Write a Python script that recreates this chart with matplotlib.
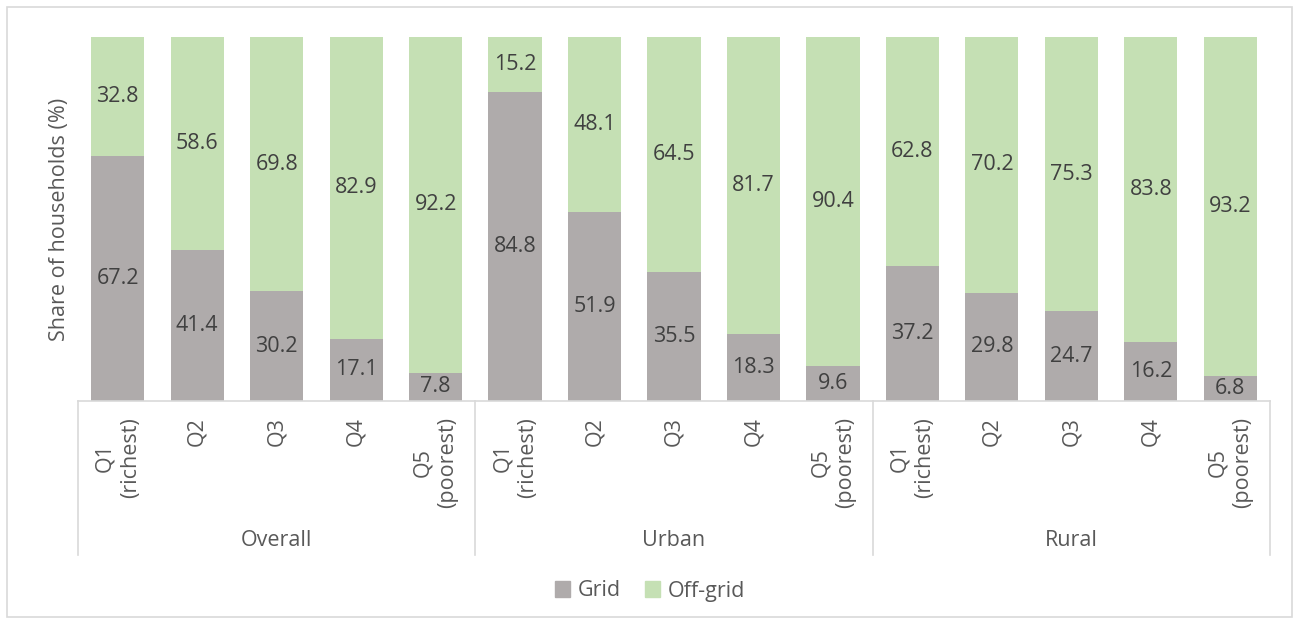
import matplotlib
matplotlib.use("Agg")
import matplotlib.pyplot as plt
from matplotlib.patches import Rectangle, Patch
import numpy as np

plt.rcParams["font.family"] = ["Open Sans", "DejaVu Sans"]

groups = ["Overall", "Urban", "Rural"]
quintiles = ["Q1\n(richest)", "Q2", "Q3", "Q4", "Q5\n(poorest)"]
grid = [67.2, 41.4, 30.2, 17.1, 7.8,
        84.8, 51.9, 35.5, 18.3, 9.6,
        37.2, 29.8, 24.7, 16.2, 6.8]
off_grid = [32.8, 58.6, 69.8, 82.9, 92.2,
            15.2, 48.1, 64.5, 81.7, 90.4,
            62.8, 70.2, 75.3, 83.8, 93.2]

GRID_COLOR = "#AFABAB"
OFF_COLOR = "#C5E0B4"
LINE_COLOR = "#D9D9D9"
TEXT_COLOR = "#595959"
FS = 15.5

W, H = 1299, 624
fig = plt.figure(figsize=(W / 100, H / 100), dpi=100)
ax = fig.add_axes([78 / W, 1 - 401 / H, (1270 - 78) / W, (401 - 37) / H])

x = np.arange(len(grid))
ax.bar(x, grid, width=0.67, color=GRID_COLOR)
ax.bar(x, off_grid, width=0.67, bottom=grid, color=OFF_COLOR)

for i in range(len(grid)):
    ax.text(x[i], grid[i] / 2, f"{grid[i]:.1f}", ha="center", va="center",
            fontsize=FS, color="#404040")
    ax.text(x[i], grid[i] + off_grid[i] / 2, f"{off_grid[i]:.1f}", ha="center",
            va="center", fontsize=FS, color="#404040")

ax.set_xlim(-0.5, len(grid) - 0.5)
ax.set_ylim(0, 100)
for s in ax.spines.values():
    s.set_visible(False)
ax.set_yticks([])
ax.set_xticks([])
ax.set_ylabel("Share of households (%)", fontsize=FS, color=TEXT_COLOR, labelpad=6)

ah = 401 - 37
trans = ax.get_xaxis_transform()
# baseline
ax.plot([-0.5, len(grid) - 0.5], [0, 0], transform=trans, color=LINE_COLOR,
        lw=1.2, clip_on=False)
# group separators
for k in range(len(groups) + 1):
    xs = -0.5 + 5 * k
    ax.plot([xs, xs], [0, -(555 - 401) / ah], transform=trans, color=LINE_COLOR,
            lw=1.2, clip_on=False)

for i in range(len(grid)):
    ax.text(x[i], -(417 - 401) / ah, quintiles[i % 5], transform=trans,
            rotation=90, ha="center", va="top", multialignment="center",
            fontsize=FS, color=TEXT_COLOR, linespacing=1.25)

for k, g in enumerate(groups):
    ax.text(5 * k + 2, -(541 - 401) / ah, g, transform=trans, ha="center",
            va="center", fontsize=FS, color=TEXT_COLOR)

handles = [Patch(color=GRID_COLOR, label="Grid"), Patch(color=OFF_COLOR, label="Off-grid")]
fig.legend(handles=handles, loc="center", bbox_to_anchor=(650 / W, 1 - 591 / H),
           ncol=2, frameon=False, fontsize=FS, handlelength=0.7, handleheight=0.7,
           handletextpad=0.35, columnspacing=1.1, labelcolor=TEXT_COLOR)

fig.patches.append(Rectangle((7 / W, 7 / H), (1292 - 7) / W, (617 - 7) / H,
                             transform=fig.transFigure, fill=False,
                             edgecolor=LINE_COLOR, lw=1.2))

fig.savefig("out.png", dpi=100)
